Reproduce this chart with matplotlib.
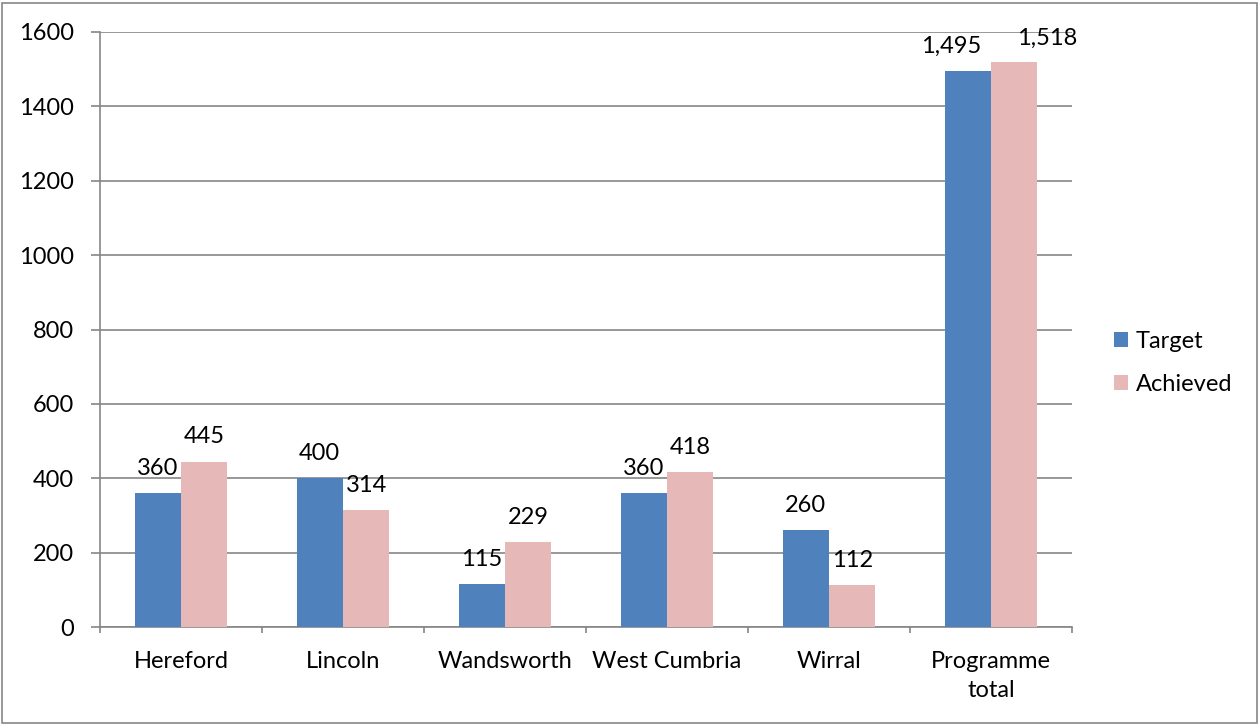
import numpy as np
import matplotlib.pyplot as plt
from matplotlib.patches import Rectangle

plt.rcParams['font.family'] = ['Lato', 'DejaVu Sans']

sites = ["Hereford", "Lincoln", "Wandsworth", "West Cumbria", "Wirral", "Programme\ntotal"]
target = [360, 400, 115, 360, 260, 1495]
achieved = [445, 314, 229, 418, 112, 1518]

blue = "#4F81BD"
pink = "#E6B9B8"
grid_col = "#868686"
fs = 17

fig = plt.figure(figsize=(12.6, 7.25), dpi=100)
ax = fig.add_axes([100 / 1260, 1 - 627 / 725, 972 / 1260, 595 / 725])

x = np.arange(len(sites))
w = 0.287
b1 = ax.bar(x - w / 2, target, w, color=blue, label="Target", zorder=3)
b2 = ax.bar(x + w / 2, achieved, w, color=pink, label="Achieved", zorder=3)

# labels over each bar; the last pair is pushed apart so they don't collide
nudge_t = [0, 0, 0, 0, 0, -12]
nudge_a = [0, 0, 0, 0, 0, 24]
for bars, vals, nudge in ((b1, target, nudge_t), (b2, achieved, nudge_a)):
    for rect, v, dx in zip(bars, vals, nudge):
        ax.annotate(f"{v:,}", (rect.get_x() + rect.get_width() / 2, v),
                    xytext=(dx, 13), textcoords="offset points",
                    ha="center", va="baseline", fontsize=fs, zorder=4)

ax.set_xlim(-0.5, len(sites) - 0.5)
ax.set_ylim(0, 1600)
ax.set_yticks(range(0, 1601, 200))
ax.yaxis.grid(True, color=grid_col, linewidth=1.2, zorder=0)

ax.set_xticks(x)
ax.set_xticklabels(sites, fontsize=fs, linespacing=1.5)
ax.set_xticks(np.arange(-0.5, len(sites)), minor=True)
ax.tick_params(axis="x", which="major", length=0, pad=17)
ax.tick_params(axis="x", which="minor", length=4.5, color=grid_col, width=1.2, direction="out")
ax.tick_params(axis="y", labelsize=fs, length=6.5, color=grid_col, width=1.2, pad=12)

for s in ("top", "right"):
    ax.spines[s].set_visible(False)
for s in ("left", "bottom"):
    ax.spines[s].set_color(grid_col)
    ax.spines[s].set_linewidth(1.2)

ax.legend(loc="center left", bbox_to_anchor=(1.043, 0.444), frameon=False,
          fontsize=fs, handlelength=0.6, handleheight=0.6, handletextpad=0.34,
          labelspacing=0.95, borderpad=0, borderaxespad=0)

fig.patches.append(Rectangle((2 / 1260, 2 / 725), 1255 / 1260, 720 / 725,
                             transform=fig.transFigure, fill=False,
                             edgecolor=grid_col, linewidth=1.2))

fig.savefig("out.png", dpi=100)
